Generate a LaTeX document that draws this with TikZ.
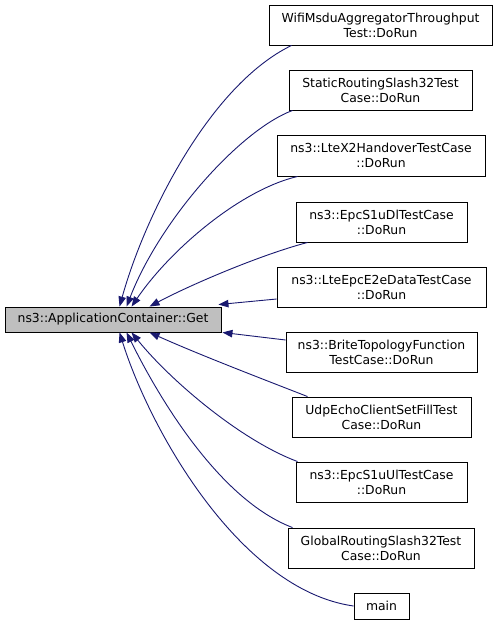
\documentclass[tikz,border=0pt]{standalone}
\usepackage{fontspec}
\setmainfont{DejaVu Sans}
\usetikzlibrary{arrows.meta}
\definecolor{edgeblue}{HTML}{191970}
\definecolor{getgray}{HTML}{BFBFBF}
\tikzset{
  fnbox/.style={draw=black, fill=white, line width=0.9pt, inner sep=0pt, align=center,
    font=\fontsize{12.4}{15}\selectfont, minimum height=40pt},
  getbox/.style={fnbox, fill=getgray, minimum height=25pt, minimum width=216pt},
  calls/.style={draw=edgeblue, line width=0.9pt, {Triangle[length=10pt,width=7.5pt]}-}
}
\begin{document}
\begin{tikzpicture}[x=1pt,y=-1pt]
\useasboundingbox (0,0) rectangle (499,625);
\node[getbox] (get) at (113,319.5) {ns3::ApplicationContainer::Get};
\node[fnbox, minimum width=223pt] (wifi) at (380.5,25) {WifiMsduAggregatorThroughput\\Test::DoRun};
\node[fnbox, minimum width=183pt] (static) at (380.5,90) {StaticRoutingSlash32Test\\Case::DoRun};
\node[fnbox, minimum width=208pt, minimum height=41pt] (ltex2) at (381,155.5) {ns3::LteX2HandoverTestCase\\::DoRun};
\node[fnbox, minimum width=171pt] (epcdl) at (381.5,222) {ns3::EpcS1uDlTestCase\\::DoRun};
\node[fnbox, minimum width=209pt] (e2e) at (381.5,287) {ns3::LteEpcE2eDataTestCase\\::DoRun};
\node[fnbox, minimum width=191pt] (brite) at (381.5,352) {ns3::BriteTopologyFunction\\TestCase::DoRun};
\node[fnbox, minimum width=179pt] (udp) at (381.5,417) {UdpEchoClientSetFillTest\\Case::DoRun};
\node[fnbox, minimum width=171pt] (epcul) at (381.5,482) {ns3::EpcS1uUlTestCase\\::DoRun};
\node[fnbox, minimum width=186pt] (global) at (381,548) {GlobalRoutingSlash32Test\\Case::DoRun};
\node[fnbox, minimum width=55pt, minimum height=26pt] (mainfn) at (381.5,606) {main};

\draw[calls] ([xshift=115pt]get.north west) .. controls (145,215) and (210,85) .. ([xshift=23pt]wifi.south west);
\draw[calls] ([xshift=122pt]get.north west) .. controls (160,220) and (240,130) .. ([xshift=4pt]static.south west);
\draw[calls] ([xshift=127pt]get.north west) .. controls (170,250) and (240,190) .. ([xshift=21pt]ltex2.south west);
\draw[calls] ([xshift=145pt]get.north west) .. controls (190,285) and (260,255) .. ([xshift=12pt]epcdl.south west);
\draw[calls] ([xshift=-3pt,yshift=2pt]get.north east) -- ([yshift=-12pt]e2e.west);
\draw[calls] ([xshift=1pt]get.south east) -- ([yshift=12pt]brite.west);
\draw[calls] ([xshift=145pt]get.south west) .. controls (200,355) and (260,378) .. ([xshift=16pt]udp.north west);
\draw[calls] ([xshift=127pt]get.south west) .. controls (170,380) and (240,440) .. ([xshift=2pt]epcul.north west);
\draw[calls] ([xshift=122pt]get.south west) .. controls (160,400) and (220,500) .. ([xshift=5pt]global.north west);
\draw[calls] ([xshift=115pt]get.south west) .. controls (150,430) and (240,590) .. (mainfn.west);
\end{tikzpicture}
\end{document}
